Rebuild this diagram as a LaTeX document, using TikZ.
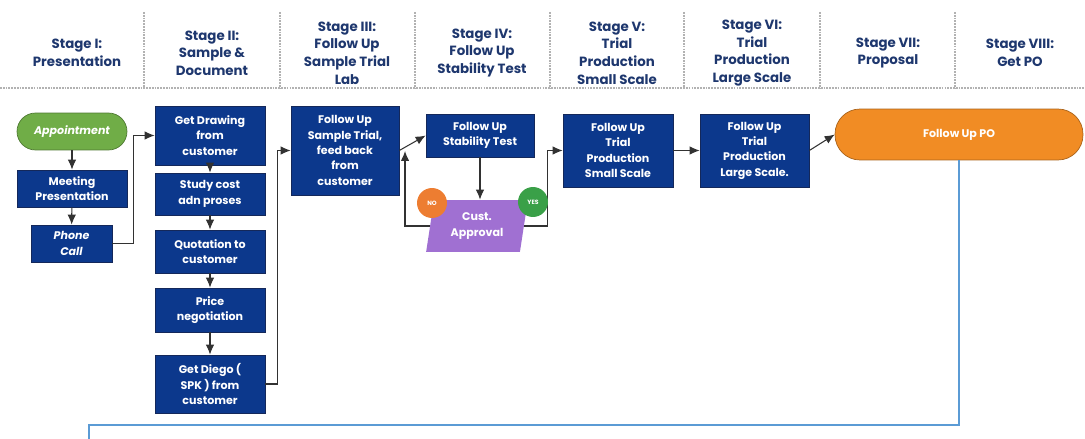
\documentclass[tikz,border=0pt]{standalone}
\usepackage{fontspec}
\setmainfont{Poppins}
\usepackage{xcolor}
\usepackage{tikz}
\usetikzlibrary{arrows.meta}
\usetikzlibrary{shapes.geometric}
\definecolor{navy}{RGB}{12,56,140}
\definecolor{navyline}{RGB}{20,40,90}
\definecolor{headblue}{RGB}{30,55,110}
\definecolor{apptgreen}{RGB}{112,173,71}
\definecolor{yesgreen}{RGB}{58,160,72}
\definecolor{noorange}{RGB}{237,125,49}
\definecolor{poorange}{RGB}{241,140,36}
\definecolor{apprpurple}{RGB}{160,112,210}
\definecolor{linegray}{RGB}{50,50,50}
\definecolor{backblue}{RGB}{91,155,213}
\newcommand{\headfont}{\bfseries\fontsize{7.6}{10}\selectfont}
\newcommand{\boxfont}{\bfseries\fontsize{6.3}{8.7}\selectfont}
\newcommand{\tinyfont}{\bfseries\fontsize{3.5}{4}\selectfont}
\tikzstyle{head} = [text=headblue, font=\headfont, align=center]
\tikzstyle{sep} = [draw=gray!60, line width=0.6pt, dash pattern=on 1pt off 0.6pt]
\tikzstyle{stepbox} = [draw=navyline, fill=navy, text=white, font=\boxfont,
	align=center, inner sep=1pt]
\tikzstyle{roundbox} = [draw=#1!70!black, fill=#1, text=white, font=\boxfont,
	align=center, inner sep=1pt]
\tikzstyle{dot} = [circle, fill=#1, text=white, font=\tinyfont,
	minimum size=0.6cm, inner sep=0pt]
\tikzstyle{arrow} = [-{Latex[length=2mm, width=1.7mm]}, line width=0.6pt, draw=linegray]

\begin{document}
\begin{tikzpicture}[x=0.02cm, y=-0.02cm]
	\useasboundingbox (0,0) rectangle (1085,439);
	
	% stage header
	\foreach \xs in {144,280,415,550,684,820,955}
		\draw[sep] (\xs,12) -- (\xs,88);
	\draw[sep, line width=1.4pt] (0,88) -- (1085,88);
	\node (h1)[head] at (77,53) {Stage I:\\Presentation};
	\node (h2)[head] at (212,53) {Stage II:\\Sample \&\\Document};
	\node (h3)[head] at (347,53) {Stage III:\\Follow Up\\Sample Trial\\Lab};
	\node (h4)[head] at (482,53) {Stage IV:\\Follow Up\\Stability Test};
	\node (h5)[head] at (617,53) {Stage V:\\Trial\\Production\\Small Scale};
	\node (h6)[head] at (752,53) {Stage VI:\\Trial\\Production\\Large Scale};
	\node (h7)[head] at (888,53) {Stage VII:\\Proposal};
	\node (h8)[head] at (1020,53) {Stage VIII:\\Get PO};
	
	% stage I
	\node (appt)[roundbox=apptgreen, rounded corners=0.37cm,
		minimum width=2.2cm, minimum height=0.74cm] at (72,131.5) {\itshape Appointment};
	\node (meet)[stepbox, minimum width=2.2cm, minimum height=0.74cm] at (72,188.5) {Meeting\\Presentation};
	\node (phone)[stepbox, minimum width=1.62cm, minimum height=0.74cm] at (71.5,243.5) {\itshape Phone\\\itshape Call};
	
	% stage II
	\node (draw)[stepbox, minimum width=2.2cm, minimum height=1.18cm] at (210,135.5) {Get Drawing\\from\\customer};
	\node (study)[stepbox, minimum width=2.2cm, minimum height=0.84cm] at (210,194) {Study cost\\adn proses};
	\node (quote)[stepbox, minimum width=2.2cm, minimum height=0.86cm] at (210,251.5) {Quotation to\\customer};
	\node (price)[stepbox, minimum width=2.2cm, minimum height=0.88cm] at (210,310) {Price\\negotiation};
	\node (diego)[stepbox, minimum width=2.2cm, minimum height=1.16cm] at (210,384) {Get Diego (\\SPK ) from\\customer};
	
	% stage III, IV
	\node (sample)[stepbox, minimum width=2.16cm, minimum height=1.78cm] at (345,150.5) {Follow Up\\Sample Trial,\\feed back\\from\\customer};
	\node (stab)[stepbox, minimum width=2.16cm, minimum height=0.86cm] at (480,135.5) {Follow Up\\Stability Test};
	\node (appr)[trapezium, trapezium left angle=80, trapezium right angle=100,
		trapezium stretches=true, fill=apprpurple, text=white, font=\boxfont, align=center,
		minimum width=2.04cm, minimum height=1.04cm, inner sep=1pt] at (477,226) {Cust.\\Approval};
	
	% stage V, VI, VIII
	\node (small)[stepbox, minimum width=2.2cm, minimum height=1.46cm] at (618,150.5) {Follow Up\\Trial\\Production\\Small Scale};
	\node (large)[stepbox, minimum width=2.18cm, minimum height=1.46cm] at (754.5,150.5) {Follow Up\\Trial\\Production\\Large Scale.};
	\node (po)[roundbox=poorange, rounded corners=0.5cm,
		minimum width=4.96cm, minimum height=1.02cm] at (959,134.5) {Follow Up PO};
	
	\draw [arrow] (appt) -- (meet);
	\draw [arrow] (meet) -- (phone);
	\draw [arrow] (phone.east) -- ++(21,0) |- (draw.west);
	\draw [arrow] (draw) -- (study);
	\draw [arrow] (study) -- (quote);
	\draw [arrow] (quote) -- (price);
	\draw [arrow] (price) -- (diego);
	\draw [arrow] (diego.east) -- ++(12,0) |- (sample.west);
	\draw [arrow] (sample.east) -- (stab.west);
	\draw [arrow] (stab.south) -- (stab.south |- appr.north);
	\coordinate (noup) at (405,151);
	\draw [arrow] (appr.west) -| (noup);
	\draw [arrow] (appr.east) -- ++(23,0) |- (small.west);
	\draw [arrow] (small) -- (large);
	\draw [arrow] (large.east) -- (po.west);
	\coordinate (back) at (89,425);
	\draw [backblue, line width=0.7pt] (po.south) |- (back) -- ++(0,14);
	
	\node (no)[dot=noorange] at (432,203) {NO};
	\node (yes)[dot=yesgreen] at (533,202) {YES};
\end{tikzpicture}
\end{document}
